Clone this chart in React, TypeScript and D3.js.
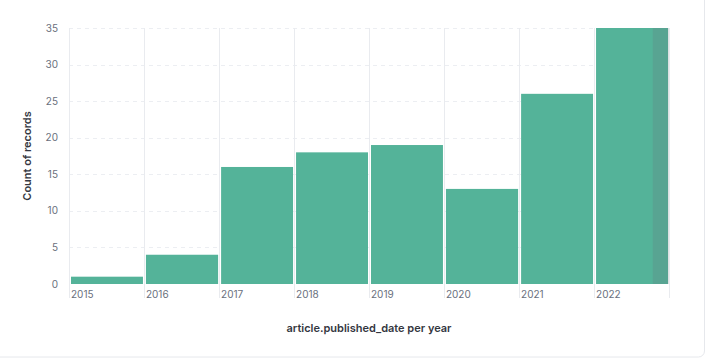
import React, { useEffect, useRef } from 'react';
import * as d3 from 'd3';

// per-year counts of records
const years = [2015, 2016, 2017, 2018, 2019, 2020, 2021, 2022];
const counts = [1, 4, 16, 18, 19, 13, 26, 35];
const yTicks = [0, 5, 10, 15, 20, 25, 30, 35];
// last bucket holds partial data from this date on
const partialFrom = '2022-10-14';

const W = 706;
const H = 359;

export default function App() {
  const ref = useRef<SVGSVGElement>(null);

  useEffect(() => {
    const svg = d3.select(ref.current);
    svg.selectAll('*').remove();

    const margin = { top: 28, left: 69, right: 37, bottom: 75 };
    const x = d3.scaleTime()
      .domain([new Date(years[0], 0, 1), new Date(years[years.length - 1] + 1, 0, 1)])
      .range([margin.left, W - margin.right]);
    const y = d3.scaleLinear()
      .domain([0, 35])
      .range([H - margin.bottom, margin.top]);

    // card
    svg.append('rect')
      .attr('x', -6).attr('y', -6)
      .attr('width', W + 4.5).attr('height', H + 4)
      .attr('rx', 6)
      .attr('fill', '#fff')
      .attr('stroke', '#e6e8ec');

    // horizontal dashed grid
    svg.append('g')
      .selectAll('line')
      .data(yTicks.filter(d => d > 0))
      .enter().append('line')
      .attr('x1', margin.left).attr('x2', W - margin.right)
      .attr('y1', d => Math.round(y(d)) + 0.5)
      .attr('y2', d => Math.round(y(d)) + 0.5)
      .attr('stroke', '#eceef2')
      .attr('stroke-dasharray', '4,4');

    // vertical grid lines at year boundaries
    const bounds = years.concat([years[years.length - 1] + 1]);
    svg.append('g')
      .selectAll('line')
      .data(bounds)
      .enter().append('line')
      .attr('x1', d => Math.round(x(new Date(d, 0, 1))) + 0.5)
      .attr('x2', d => Math.round(x(new Date(d, 0, 1))) + 0.5)
      .attr('y1', margin.top)
      .attr('y2', H - margin.bottom + 14)
      .attr('stroke', '#e9ebef');

    // bars
    svg.append('g')
      .selectAll('rect')
      .data(years.map((yr, i) => ({ yr, v: counts[i] })))
      .enter().append('rect')
      .attr('x', d => x(new Date(d.yr, 0, 1)) + 2)
      .attr('width', d => x(new Date(d.yr + 1, 0, 1)) - x(new Date(d.yr, 0, 1)) - 3)
      .attr('y', d => y(d.v))
      .attr('height', d => y(0) - y(d.v))
      .attr('fill', '#54b399');

    // partial bucket overlay
    const px = x(new Date(partialFrom));
    svg.append('rect')
      .attr('x', px)
      .attr('width', x.range()[1] - px)
      .attr('y', margin.top)
      .attr('height', y(0) - margin.top)
      .attr('fill', '#69707d')
      .attr('fill-opacity', 0.22);

    // y tick labels
    svg.append('g')
      .selectAll('text')
      .data(yTicks)
      .enter().append('text')
      .attr('x', margin.left - 11)
      .attr('y', d => y(d))
      .attr('dy', '0.35em')
      .attr('text-anchor', 'end')
      .attr('font-family', 'Inter, sans-serif')
      .attr('font-size', 10)
      .attr('fill', '#69707d')
      .text(d => d);

    // x tick labels
    svg.append('g')
      .selectAll('text')
      .data(years)
      .enter().append('text')
      .attr('x', d => x(new Date(d, 0, 1)) + 2)
      .attr('y', H - margin.bottom + 14)
      .attr('font-family', 'Inter, sans-serif')
      .attr('font-size', 10)
      .attr('fill', '#69707d')
      .text(d => d);

    // axis titles
    svg.append('text')
      .attr('transform', 'translate(27,' + ((margin.top + H - margin.bottom) / 2) + ') rotate(-90)')
      .attr('text-anchor', 'middle')
      .attr('dy', '0.35em')
      .attr('font-family', 'Inter, sans-serif')
      .attr('font-size', 11)
      .attr('font-weight', 600)
      .attr('fill', '#343741')
      .text('Count of records');

    svg.append('text')
      .attr('x', (margin.left + W - margin.right) / 2)
      .attr('y', 328)
      .attr('dy', '0.35em')
      .attr('text-anchor', 'middle')
      .attr('font-family', 'Inter, sans-serif')
      .attr('font-size', 11)
      .attr('font-weight', 600)
      .attr('fill', '#343741')
      .text('article.published_date per year');
  }, []);

  return (
    <svg ref={ref} width={W} height={H}
      style={{ position: 'absolute', left: 0, top: 0, display: 'block' }} />
  );
}
